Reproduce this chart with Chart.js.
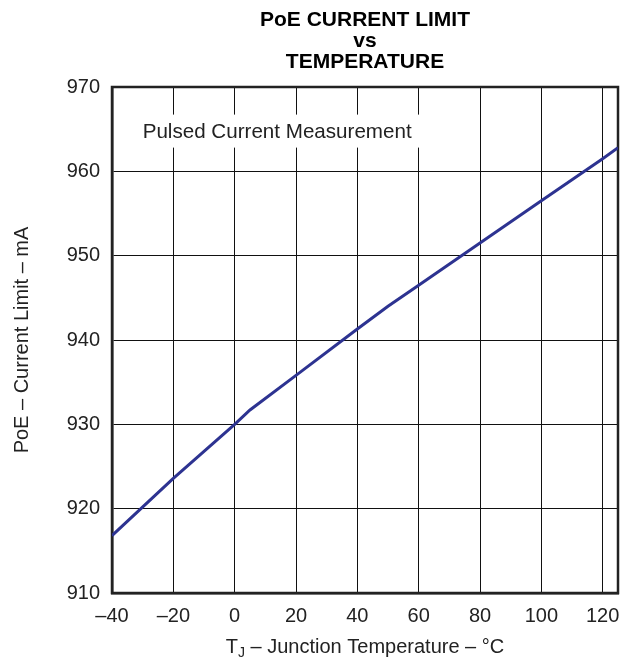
<!DOCTYPE html>
<html>
<head>
<meta charset="utf-8">
<script src="https://cdn.jsdelivr.net/npm/chart.js@4.4.1/dist/chart.umd.min.js"></script>
<style>
  html, body { margin: 0; padding: 0; background: #fff; }
  #wrap { width: 625px; height: 660px; position: relative; }
</style>
</head>
<body>
<div id="wrap"><canvas id="chart"></canvas></div>
<script>
// --- dados ---
const temps = [-40, -20, 0, 5, 20, 40, 50, 60, 80, 100, 110, 120, 125];
const currents = [916.8, 923.6, 930.0, 931.7, 935.8, 941.3, 944.0, 946.5, 951.5, 956.5, 959.0, 961.5, 962.8];

const titleLines = ['PoE CURRENT LIMIT', 'vs', 'TEMPERATURE'];
const yTitle = 'PoE \u2013 Current Limit \u2013 mA';
const xTitleMain = 'T';
const xTitleSub = 'J';
const xTitleRest = ' \u2013 Junction Temperature \u2013 \u00B0C';
const noteText = 'Pulsed Current Measurement';

const FONT = "'Liberation Sans', Arial, sans-serif";
const TEXT = '#222';

// moldura da área do gráfico + nota + título do eixo x
const framePlugin = {
    id: 'frame',
    beforeDatasetsDraw(chart) {
        const { ctx, chartArea: a, scales } = chart;
        ctx.save();
        // caixa branca atrás da nota
        const nx = scales.x.getPixelForValue(-30);
        const ny = scales.y.getPixelForValue(964);
        ctx.fillStyle = '#fff';
        ctx.fillRect(nx - 8, ny - 23, 290, 33);
        ctx.font = '20.6px ' + FONT;
        ctx.fillStyle = TEXT;
        ctx.textBaseline = 'alphabetic';
        ctx.fillText(noteText, nx, ny);
        // moldura
        ctx.strokeStyle = '#222';
        ctx.lineWidth = 2.5;
        ctx.strokeRect(a.left, a.top, a.right - a.left, a.bottom - a.top);
        ctx.restore();
    },
    afterDraw(chart) {
        const { ctx, chartArea: a } = chart;
        ctx.save();
        ctx.fillStyle = TEXT;
        ctx.textBaseline = 'alphabetic';
        const big = '20px ' + FONT;
        const small = '14px ' + FONT;
        ctx.font = big;
        const w1 = ctx.measureText(xTitleMain).width;
        const w3 = ctx.measureText(xTitleRest).width;
        ctx.font = small;
        const w2 = ctx.measureText(xTitleSub).width;
        let x = (a.left + a.right) / 2 - (w1 + w2 + w3) / 2;
        const base = 653;
        ctx.font = big;
        ctx.fillText(xTitleMain, x, base);
        x += w1;
        ctx.font = small;
        ctx.fillText(xTitleSub, x, base + 4);
        x += w2;
        ctx.font = big;
        ctx.fillText(xTitleRest, x, base);
        ctx.restore();
    }
};

const ctx = document.getElementById('chart').getContext('2d');
new Chart(ctx, {
    type: 'line',
    data: {
        datasets: [{
            data: temps.map((t, i) => ({ x: t, y: currents[i] })),
            borderColor: '#2d3391',
            borderWidth: 3,
            pointRadius: 0,
            tension: 0,
            fill: false
        }]
    },
    options: {
        responsive: true,
        maintainAspectRatio: false,
        animation: false,
        layout: { padding: { left: 0, right: 7, top: 0, bottom: 0 } },
        plugins: {
            legend: { display: false },
            tooltip: { enabled: false },
            title: {
                display: true,
                fullSize: false,
                text: titleLines,
                color: '#000',
                font: { family: FONT, size: 21, weight: 'bold', lineHeight: 1.0 },
                padding: { top: 10, bottom: 14 }
            }
        },
        scales: {
            x: {
                type: 'linear',
                min: -40,
                max: 125,
                afterFit(scale) {
                    scale.height = 67;
                    scale.paddingLeft = 0;
                    scale.paddingRight = 0;
                },
                grid: { color: '#111', lineWidth: 1, drawTicks: false },
                border: { color: '#222', width: 2.5 },
                ticks: {
                    stepSize: 20,
                    includeBounds: false,
                    padding: 11,
                    color: TEXT,
                    font: { family: FONT, size: 20 },
                    callback: v => v < 0 ? '\u2013' + Math.abs(v) : String(v)
                }
            },
            y: {
                min: 910,
                max: 970,
                afterFit(scale) { scale.width = 112; },
                grid: { color: '#111', lineWidth: 1, drawTicks: false },
                border: { color: '#222', width: 2.5 },
                ticks: {
                    stepSize: 10,
                    padding: 12,
                    color: TEXT,
                    font: { family: FONT, size: 20 }
                },
                title: {
                    display: true,
                    text: yTitle,
                    color: TEXT,
                    font: { family: FONT, size: 20 },
                    padding: { top: 10, bottom: 0 }
                }
            }
        }
    },
    plugins: [framePlugin]
});
</script>
</body>
</html>
